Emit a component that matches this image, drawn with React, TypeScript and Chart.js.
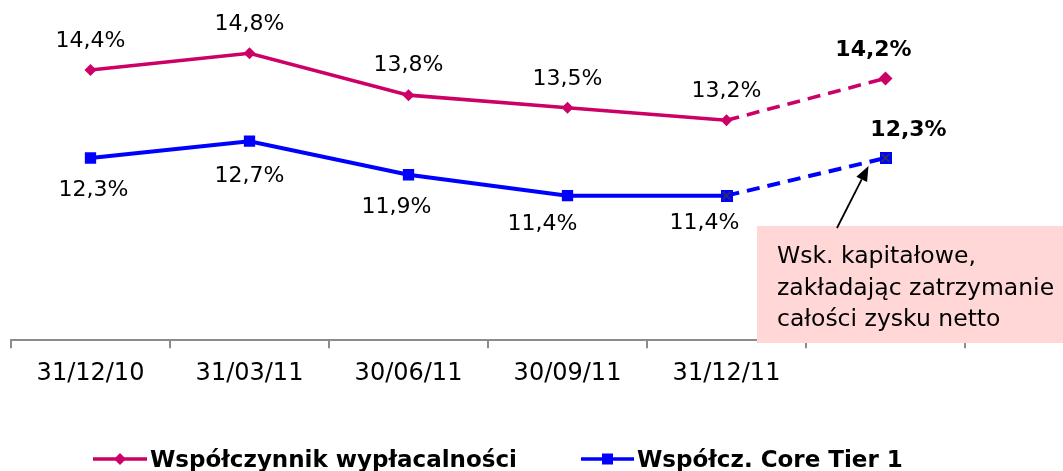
import React, { useEffect, useRef } from "react";
import { Chart, registerables } from "chart.js";

Chart.register(...registerables);

// ---- data ----
const categories = ["31/12/10", "31/03/11", "30/06/11", "30/09/11", "31/12/11", ""];
const solvencyRatio = [14.4, 14.8, 13.8, 13.5, 13.2, 14.2];
const coreTier1 = [12.3, 12.7, 11.9, 11.4, 11.4, 12.3];
const seriesNames = ["Współczynnik wypłacalności", "Współcz. Core Tier 1"];
const noteLines = ["Wsk. kapitałowe,", "zakładając zatrzymanie", "całości zysku netto"];

// ---- styles ----
const PINK = "#CC0066";
const BLUE = "#0000FF";
const AXIS_GREY = "#8C8C8C";
const NOTE_FILL = "#FFD7D7";
const FONT = "'DejaVu Sans', Verdana, sans-serif";
const W = 1063;
const H = 471;
const pinkLabelOff = [[0, -31], [0, -31], [0, -32], [0, -31], [0, -31], [-12, -30]];
const blueLabelOff = [[3, 30], [0, 33], [-12, 30], [-25, 26.5], [-22, 25.5], [23, -30]];

const fmt = (v: number) => v.toFixed(1).replace(".", ",") + "%";

function crossSquare(): HTMLCanvasElement {
  const c = document.createElement("canvas");
  c.width = 12;
  c.height = 12;
  const g = c.getContext("2d")!;
  g.fillStyle = BLUE;
  g.fillRect(0, 0, 12, 12);
  g.strokeStyle = "#3a3a3a";
  g.lineWidth = 1.6;
  g.beginPath();
  g.moveTo(2, 2);
  g.lineTo(10, 10);
  g.moveTo(10, 2);
  g.lineTo(2, 10);
  g.stroke();
  return c;
}

const labelsPlugin = {
  id: "valueLabels",
  afterDatasetsDraw(chart: any) {
    const ctx = chart.ctx;
    ctx.save();
    ctx.fillStyle = "#000";
    ctx.textAlign = "center";
    ctx.textBaseline = "alphabetic";
    const sets = [
      { idx: 0, data: solvencyRatio, off: pinkLabelOff },
      { idx: 1, data: coreTier1, off: blueLabelOff },
    ];
    sets.forEach((s) => {
      const meta = chart.getDatasetMeta(s.idx);
      meta.data.forEach((pt: any, i: number) => {
        const last = i === s.data.length - 1;
        const size = 22;
        ctx.font = `${last ? "bold " : ""}${size}px ${FONT}`;
        const [dx, dy] = s.off[i];
        ctx.fillText(fmt(s.data[i]), pt.x + dx, pt.y + dy + size * 0.365);
      });
    });
    ctx.restore();
  },
};

const notePlugin = {
  id: "noteAndLegend",
  afterDraw(chart: any) {
    const ctx = chart.ctx;
    ctx.save();
    // annotation box
    const bx = 757, by = 226, bh = 117;
    ctx.fillStyle = NOTE_FILL;
    ctx.fillRect(bx, by, chart.width - bx, bh);
    ctx.fillStyle = "#000";
    ctx.font = `23.5px ${FONT}`;
    ctx.textAlign = "left";
    ctx.textBaseline = "alphabetic";
    noteLines.forEach((t, i) => ctx.fillText(t, bx + 20, by + 37 + i * 31.5));

    // arrow pointing to last Core Tier 1 point
    const meta = chart.getDatasetMeta(1);
    const p = meta.data[meta.data.length - 1];
    const tipX = p.x - 17, tipY = p.y + 8;
    const sx = bx + 80, sy = by + 2;
    const ang = Math.atan2(tipY - sy, tipX - sx);
    const len = 15, hw = 6;
    const baseX = tipX - len * Math.cos(ang), baseY = tipY - len * Math.sin(ang);
    ctx.strokeStyle = "#000";
    ctx.lineWidth = 1.8;
    ctx.beginPath();
    ctx.moveTo(sx, sy);
    ctx.lineTo(baseX, baseY);
    ctx.stroke();
    ctx.beginPath();
    ctx.moveTo(tipX, tipY);
    ctx.lineTo(baseX + hw * Math.sin(ang), baseY - hw * Math.cos(ang));
    ctx.lineTo(baseX - hw * Math.sin(ang), baseY + hw * Math.cos(ang));
    ctx.closePath();
    ctx.fillStyle = "#000";
    ctx.fill();

    // legend
    const ly = 459;
    const items = [
      { x0: 93, x1: 147, color: PINK, marker: "diamond", text: seriesNames[0] },
      { x0: 581, x1: 634, color: BLUE, marker: "square", text: seriesNames[1] },
    ];
    items.forEach((it) => {
      ctx.strokeStyle = it.color;
      ctx.lineWidth = 3.5;
      ctx.beginPath();
      ctx.moveTo(it.x0, ly);
      ctx.lineTo(it.x1, ly);
      ctx.stroke();
      const cx = (it.x0 + it.x1) / 2;
      ctx.fillStyle = it.color;
      if (it.marker === "diamond") {
        ctx.beginPath();
        ctx.moveTo(cx, ly - 6);
        ctx.lineTo(cx + 6, ly);
        ctx.lineTo(cx, ly + 6);
        ctx.lineTo(cx - 6, ly);
        ctx.closePath();
        ctx.fill();
      } else {
        ctx.fillRect(cx - 5.5, ly - 5.5, 11, 11);
      }
      ctx.fillStyle = "#000";
      ctx.font = `bold 23px ${FONT}`;
      ctx.textAlign = "left";
      ctx.fillText(it.text, it.x1 + 3, 467);
    });
    ctx.restore();
  },
};

export default function App() {
  const ref = useRef<HTMLCanvasElement | null>(null);
  useEffect(() => {
    if (!ref.current) return;
    const xImg = crossSquare();
    const chart = new Chart(ref.current, {
      type: "line",
      data: {
        labels: categories,
        datasets: [
          {
            label: seriesNames[0],
            data: solvencyRatio,
            borderColor: PINK,
            backgroundColor: PINK,
            borderWidth: 3.6,
            pointStyle: "rectRot",
            pointRadius: solvencyRatio.map((_, i) => (i === solvencyRatio.length - 1 ? 7 : 6)),
            pointBorderWidth: 0,
            tension: 0,
            segment: {
              borderDash: (c: any) => (c.p0DataIndex === 4 ? [13, 8] : undefined),
            },
          },
          {
            label: seriesNames[1],
            data: coreTier1,
            borderColor: BLUE,
            backgroundColor: BLUE,
            borderWidth: 4,
            pointStyle: coreTier1.map((_, i) => (i >= 4 ? (xImg as any) : "rect")),
            pointRadius: 8,
            pointBorderWidth: 0,
            tension: 0,
            segment: {
              borderDash: (c: any) => (c.p0DataIndex === 4 ? [13, 8] : undefined),
            },
          },
        ],
      },
      options: {
        responsive: false,
        animation: false,
        layout: { padding: { left: 11, right: 98, top: 5, bottom: 72 } },
        plugins: {
          legend: { display: false },
          tooltip: { enabled: false },
        },
        scales: {
          x: {
            type: "category",
            offset: true,
            grid: {
              offset: true,
              drawOnChartArea: false,
              drawTicks: true,
              tickLength: 8,
              color: AXIS_GREY,
              lineWidth: 2,
            },
            border: { display: true, color: AXIS_GREY, width: 2 },
            ticks: {
              color: "#000",
              padding: 11,
              maxRotation: 0,
              autoSkip: false,
              font: { family: FONT, size: 24 },
            },
          },
          y: {
            display: false,
            min: 7.95,
            max: 15.88,
          },
        },
      },
      plugins: [labelsPlugin, notePlugin],
    });
    return () => chart.destroy();
  }, []);
  return (
    <div style={{ position: "fixed", left: 0, top: 0, width: W, height: H, background: "#fff" }}>
      <canvas ref={ref} width={W} height={H} style={{ display: "block" }} />
    </div>
  );
}
